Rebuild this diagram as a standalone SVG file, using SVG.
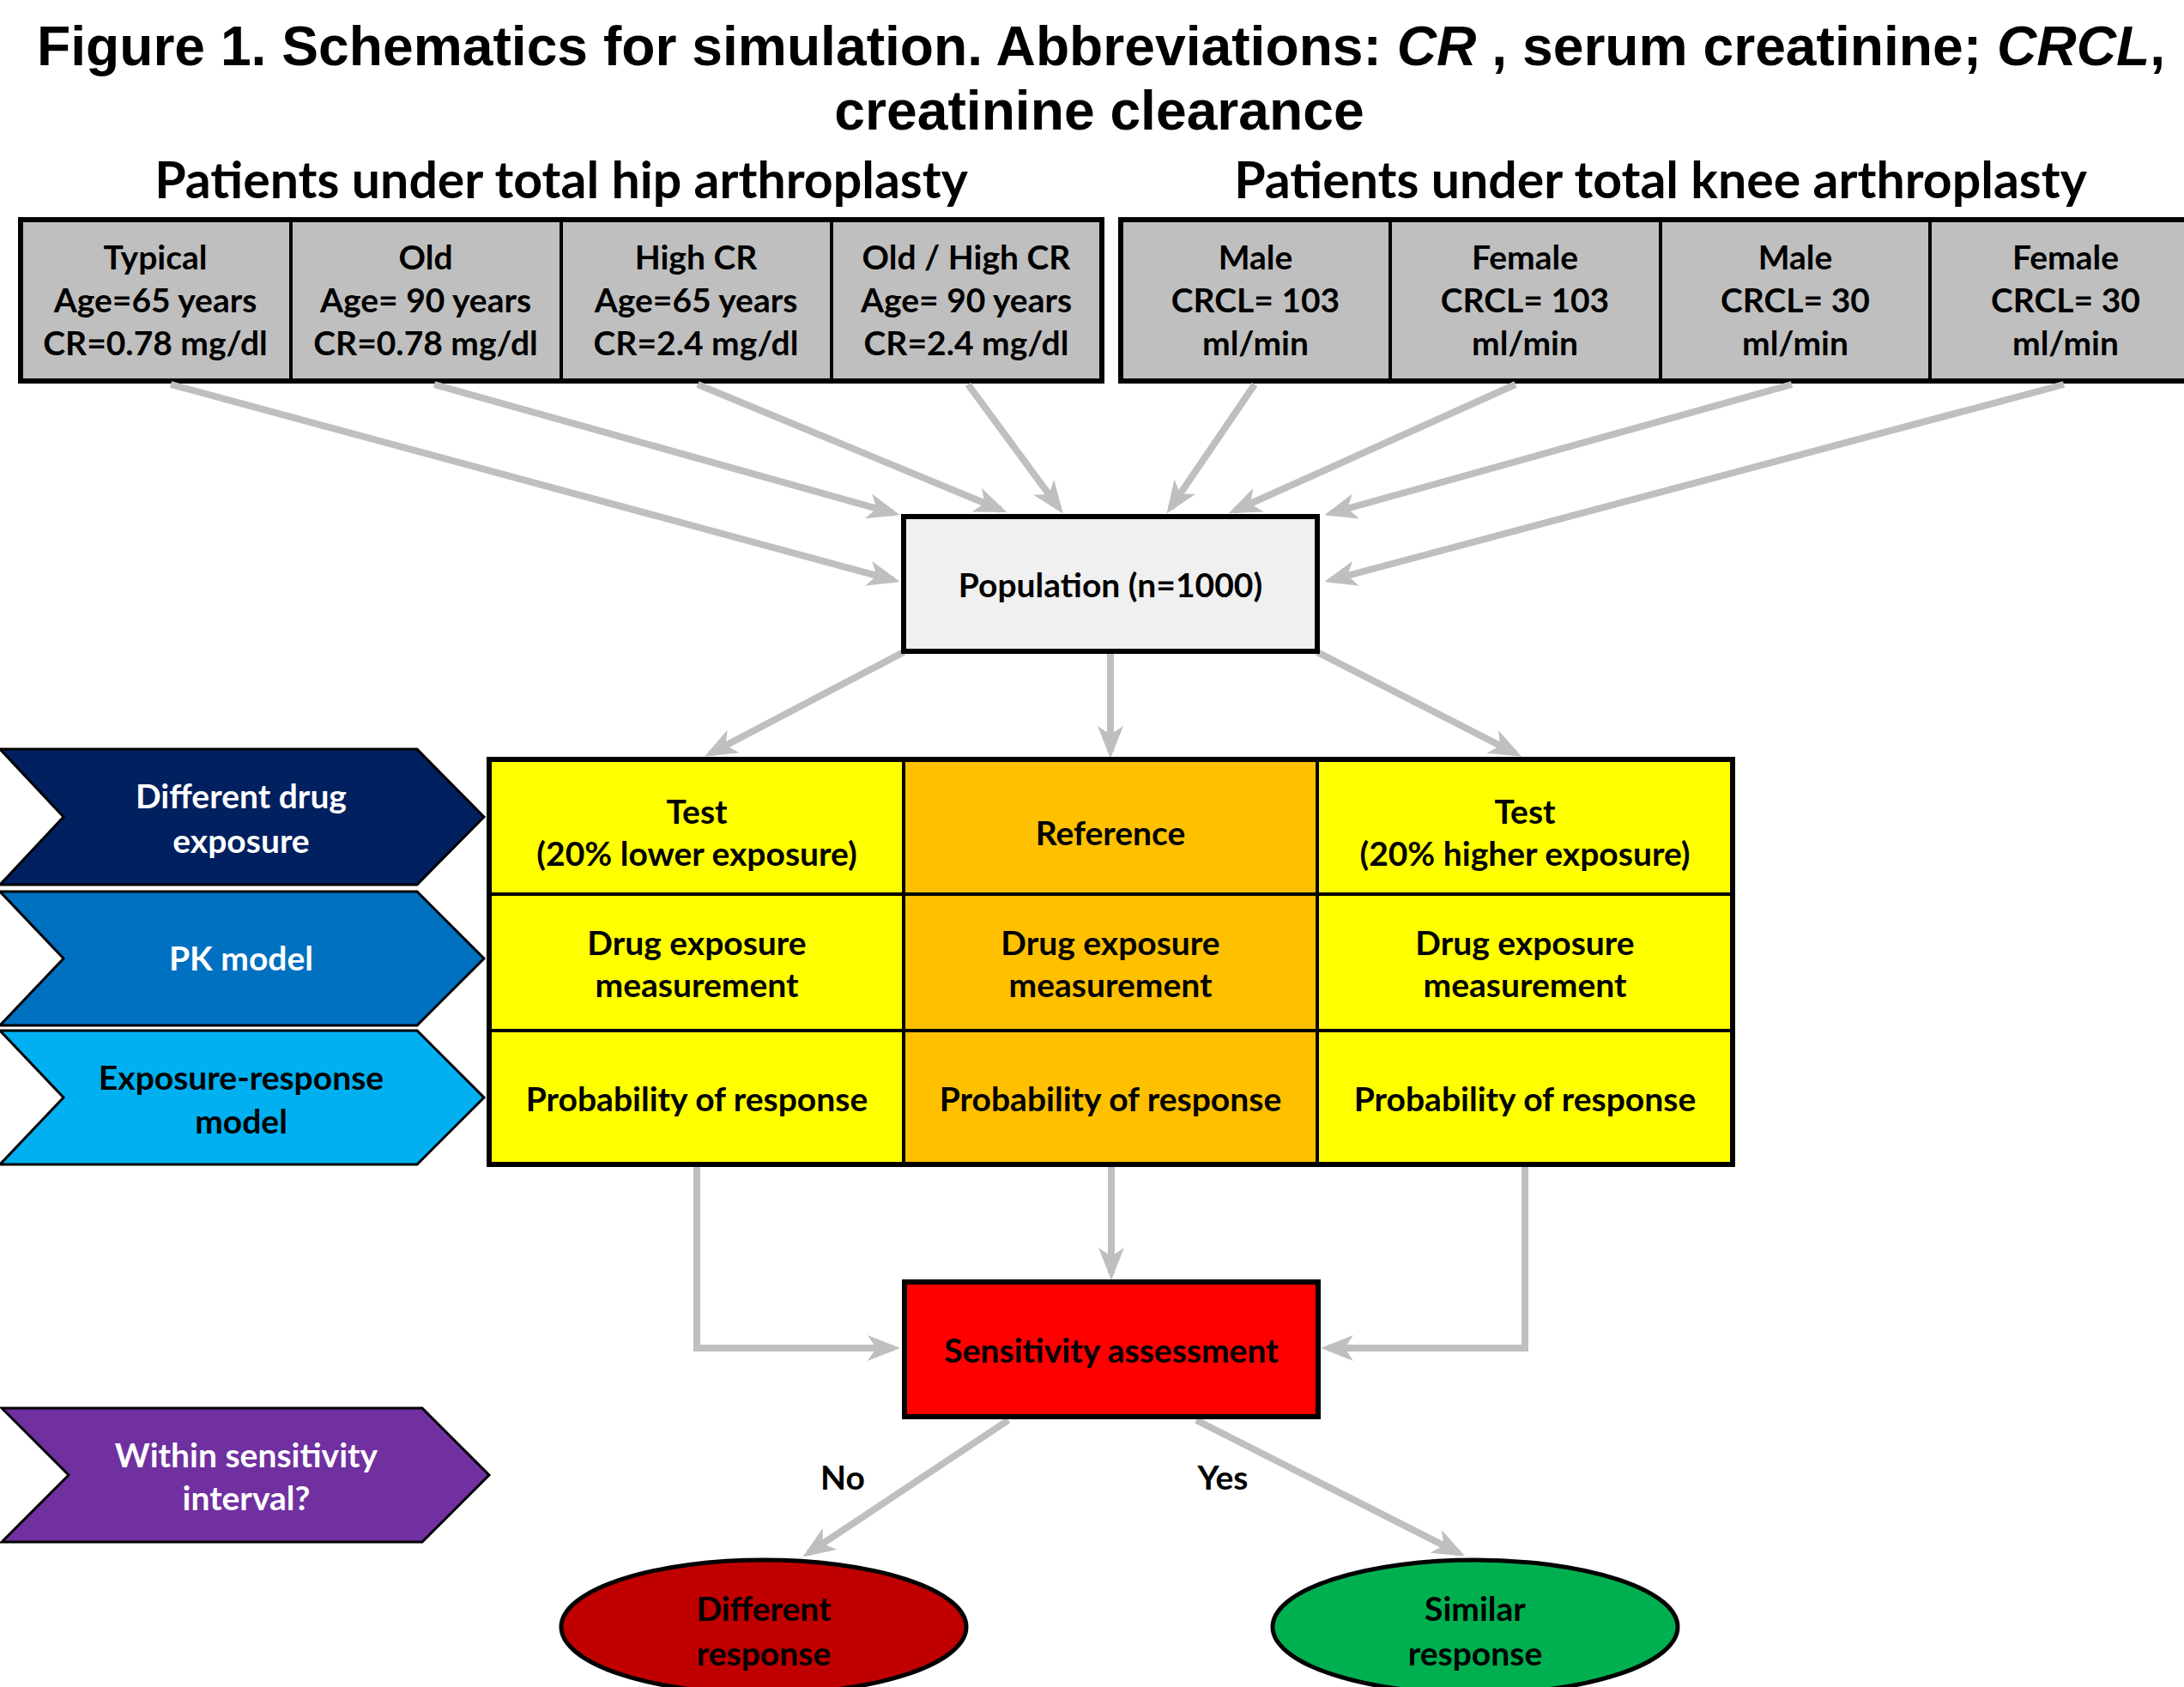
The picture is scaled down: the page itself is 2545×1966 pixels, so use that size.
<svg xmlns="http://www.w3.org/2000/svg" width="2545" height="1966" viewBox="0 0 2545 1966">
<style>
.title{font-family:"Liberation Sans",Arial,sans-serif;font-weight:bold;font-size:64.2px;fill:#000;text-anchor:middle}
.sub{font-family:Lato,"Open Sans",sans-serif;font-weight:bold;font-size:59px;fill:#000;text-anchor:middle}
.t{font-family:Lato,"Open Sans",sans-serif;font-weight:bold;font-size:39px;fill:#000;text-anchor:middle}
.w{fill:#fff}
.conn{fill:none;stroke:#bfbfbf;stroke-width:8;marker-end:url(#ah)}
.cell{stroke:#000;stroke-width:4}
.outer{fill:none;stroke:#000;stroke-width:6}
.chev{stroke:#000;stroke-width:3}
</style>
<defs>
<marker id="ah" markerUnits="userSpaceOnUse" viewBox="-40 -20 54 40" markerWidth="54" markerHeight="40" refX="0" refY="0" orient="auto">
<path d="M8,0 L-30,-15 L-20,0 L-30,15 Z" fill="#bfbfbf"/>
</marker>
</defs>
<rect width="2545" height="1966" fill="#fff"/>
<g id="title">
<text class="title" x="1283" y="76">Figure 1. Schematics for simulation. Abbreviations: <tspan font-style="italic">CR</tspan> , serum creatinine; <tspan font-style="italic">CRCL</tspan>,</text>
<text class="title" x="1281" y="151">creatinine clearance</text>
</g>
<g id="subtitles">
<text class="sub" x="654" y="231">Patients under total hip arthroplasty</text>
<text class="sub" x="1935" y="231">Patients under total knee arthroplasty</text>
</g>
<g id="hip-group">
<g id="typical"><rect class="cell" x="24" y="256" width="315" height="188" fill="#bfbfbf"/>
<text class="t" x="181" y="314">Typical</text><text class="t" x="181" y="364">Age=65 years</text><text class="t" x="181" y="414">CR=0.78 mg/dl</text></g>
<g id="old"><rect class="cell" x="339" y="256" width="315" height="188" fill="#bfbfbf"/>
<text class="t" x="496" y="314">Old</text><text class="t" x="496" y="364">Age= 90 years</text><text class="t" x="496" y="414">CR=0.78 mg/dl</text></g>
<g id="highcr"><rect class="cell" x="654" y="256" width="315" height="188" fill="#bfbfbf"/>
<text class="t" x="811" y="314">High CR</text><text class="t" x="811" y="364">Age=65 years</text><text class="t" x="811" y="414">CR=2.4 mg/dl</text></g>
<g id="oldhighcr"><rect class="cell" x="969" y="256" width="315" height="188" fill="#bfbfbf"/>
<text class="t" x="1126" y="314">Old / High CR</text><text class="t" x="1126" y="364">Age= 90 years</text><text class="t" x="1126" y="414">CR=2.4 mg/dl</text></g>
<rect class="outer" x="24" y="256" width="1260" height="188"/>
</g>
<g id="knee-group">
<g id="male103"><rect class="cell" x="1306" y="256" width="314" height="188" fill="#bfbfbf"/>
<text class="t" x="1463" y="314">Male</text><text class="t" x="1463" y="364">CRCL= 103</text><text class="t" x="1463" y="414">ml/min</text></g>
<g id="female103"><rect class="cell" x="1620" y="256" width="315" height="188" fill="#bfbfbf"/>
<text class="t" x="1777" y="314">Female</text><text class="t" x="1777" y="364">CRCL= 103</text><text class="t" x="1777" y="414">ml/min</text></g>
<g id="male30"><rect class="cell" x="1935" y="256" width="314" height="188" fill="#bfbfbf"/>
<text class="t" x="2092" y="314">Male</text><text class="t" x="2092" y="364">CRCL= 30</text><text class="t" x="2092" y="414">ml/min</text></g>
<g id="female30"><rect class="cell" x="2249" y="256" width="316" height="188" fill="#bfbfbf"/>
<text class="t" x="2407" y="314">Female</text><text class="t" x="2407" y="364">CRCL= 30</text><text class="t" x="2407" y="414">ml/min</text></g>
<rect class="outer" x="1306" y="256" width="1262" height="188"/>
</g>
<g id="connectors">
<line class="conn" x1="199" y1="448" x2="1041" y2="676"/>
<line class="conn" x1="506" y1="448" x2="1041" y2="598"/>
<line class="conn" x1="813" y1="448" x2="1166" y2="594"/>
<line class="conn" x1="1128" y1="448" x2="1234" y2="592"/>
<line class="conn" x1="1462" y1="448" x2="1364" y2="592"/>
<line class="conn" x1="1766" y1="448" x2="1439" y2="595"/>
<line class="conn" x1="2088" y1="448" x2="1551" y2="598"/>
<line class="conn" x1="2405" y1="448" x2="1551" y2="676"/>
<line class="conn" x1="1053" y1="760" x2="828" y2="878"/>
<line class="conn" x1="1294" y1="762" x2="1294" y2="876"/>
<line class="conn" x1="1535" y1="760" x2="1766" y2="878"/>
<polyline class="conn" points="812,1360 812,1571 1041,1571"/>
<line class="conn" x1="1295" y1="1360" x2="1295" y2="1484"/>
<polyline class="conn" points="1777,1360 1777,1571 1547,1571"/>
<line class="conn" x1="1175" y1="1655" x2="942" y2="1810"/>
<line class="conn" x1="1394" y1="1655" x2="1700" y2="1810"/>
</g>
<g id="population">
<rect x="1053" y="602" width="482" height="157" fill="#f0f0f0" stroke="#000" stroke-width="6"/>
<text class="t" x="1294" y="696">Population (n=1000)</text>
</g>
<g id="grid">
<g id="test-low"><rect class="cell" x="570" y="885" width="483" height="157" fill="#ffff00"/>
<text class="t" x="812" y="960">Test</text><text class="t" x="812" y="1009">(20% lower exposure)</text></g>
<g id="reference"><rect class="cell" x="1053" y="885" width="482" height="157" fill="#ffc000"/>
<text class="t" x="1294" y="985">Reference</text></g>
<g id="test-high"><rect class="cell" x="1535" y="885" width="484" height="157" fill="#ffff00"/>
<text class="t" x="1777" y="960">Test</text><text class="t" x="1777" y="1009">(20% higher exposure)</text></g>
<g id="dem-low"><rect class="cell" x="570" y="1042" width="483" height="159" fill="#ffff00"/>
<text class="t" x="812" y="1113">Drug exposure</text><text class="t" x="812" y="1162">measurement</text></g>
<g id="dem-ref"><rect class="cell" x="1053" y="1042" width="482" height="159" fill="#ffc000"/>
<text class="t" x="1294" y="1113">Drug exposure</text><text class="t" x="1294" y="1162">measurement</text></g>
<g id="dem-high"><rect class="cell" x="1535" y="1042" width="484" height="159" fill="#ffff00"/>
<text class="t" x="1777" y="1113">Drug exposure</text><text class="t" x="1777" y="1162">measurement</text></g>
<g id="prob-low"><rect class="cell" x="570" y="1201" width="483" height="156" fill="#ffff00"/>
<text class="t" x="812" y="1295">Probability of response</text></g>
<g id="prob-ref"><rect class="cell" x="1053" y="1201" width="482" height="156" fill="#ffc000"/>
<text class="t" x="1294" y="1295">Probability of response</text></g>
<g id="prob-high"><rect class="cell" x="1535" y="1201" width="484" height="156" fill="#ffff00"/>
<text class="t" x="1777" y="1295">Probability of response</text></g>
<rect class="outer" x="570" y="885" width="1449" height="472"/>
</g>
<g id="chevron-exposure">
<polygon class="chev" points="0,873 486,873 564,952 486,1031 0,1031 74,952" fill="#002060"/>
<text class="t w" x="281" y="942">Different drug</text><text class="t w" x="281" y="994">exposure</text>
</g>
<g id="chevron-pk">
<polygon class="chev" points="0,1039 486,1039 564,1117 486,1195 0,1195 74,1117" fill="#0070c0"/>
<text class="t w" x="281" y="1131">PK model</text>
</g>
<g id="chevron-er">
<polygon class="chev" points="0,1201 486,1201 564,1279 486,1357 0,1357 74,1279" fill="#00b0f0"/>
<text class="t" x="281" y="1270">Exposure-response</text><text class="t" x="281" y="1321">model</text>
</g>
<g id="chevron-within">
<polygon class="chev" points="2,1641 492,1641 570,1719 492,1797 2,1797 80,1719" fill="#7030a0"/>
<text class="t w" x="287" y="1710">Within sensitivity</text><text class="t w" x="287" y="1760">interval?</text>
</g>
<g id="sensitivity">
<rect x="1054" y="1494" width="482" height="157" fill="#ff0000" stroke="#000" stroke-width="6"/>
<text class="t" x="1295" y="1588">Sensitivity assessment</text>
</g>
<g id="labels">
<text class="t" x="982" y="1736">No</text>
<text class="t" x="1425" y="1736">Yes</text>
</g>
<g id="different">
<ellipse cx="890" cy="1896" rx="236" ry="78" fill="#c00000" stroke="#000" stroke-width="5"/>
<text class="t" x="890" y="1889">Different</text><text class="t" x="890" y="1941">response</text>
</g>
<g id="similar">
<ellipse cx="1719" cy="1896" rx="236" ry="78" fill="#00b050" stroke="#000" stroke-width="5"/>
<text class="t" x="1719" y="1889">Similar</text><text class="t" x="1719" y="1941">response</text>
</g>
</svg>
